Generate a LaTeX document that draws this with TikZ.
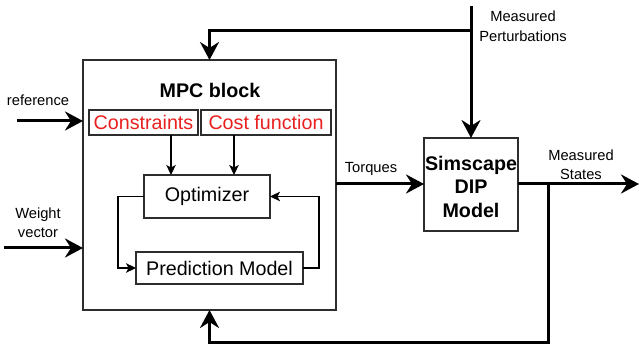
\documentclass[tikz,border=0pt]{standalone}
\usepackage{fontspec}
\setmainfont{Liberation Sans}
\usetikzlibrary{arrows.meta}
\definecolor{redtxt}{RGB}{232,32,30}
\definecolor{boxline}{RGB}{45,45,45}
\tikzset{
  box/.style={draw=boxline, line width=1.3pt, inner sep=0pt, outer sep=0pt, fill=white},
  bigtxt/.style={font=\fontsize{19.7}{24}\selectfont},
  smalltxt/.style={font=\fontsize{14.7}{19}\selectfont, align=center, inner sep=0pt},
  thinarr/.style={draw=black, line width=1.2pt, -{Stealth[length=10pt,width=9.5pt,inset=2.5pt]}},
  thickarr/.style={draw=black, line width=3pt, -{Stealth[length=18pt,width=19pt,inset=6pt]}},
}
\begin{document}
\begin{tikzpicture}[x=1pt, y=-1pt]
\useasboundingbox (0,0) rectangle (639,344);
% boxes
\node[box, minimum width=253pt, minimum height=250pt] (mpc) at (209.5,185) {};
\node[inner sep=0pt, font=\fontsize{19.7}{24}\selectfont\bfseries] (mpctitle) at (210,90) {MPC block};
\node[box, bigtxt, text=redtxt, minimum width=109pt, minimum height=25pt] (cons) at (143.5,122.5) {Constraints};
\node[box, bigtxt, text=redtxt, minimum width=130pt, minimum height=25pt] (cost) at (266,122.5) {Cost function};
\node[box, bigtxt, minimum width=126pt, minimum height=43pt] (opt) at (207,196.5) {Optimizer};
\node[box, bigtxt, minimum width=167pt, minimum height=32pt] (pm) at (219.5,268) {Prediction Model};
\node[box, minimum width=94pt, minimum height=93pt] (sim) at (471,184.5) {};
\node[align=center, inner sep=0pt, font=\fontsize{19.7}{23.5}\selectfont\bfseries] (simtxt) at (471,186.5) {Simscape\\DIP\\Model};
% labels
\node[smalltxt] (lref) at (38,100) {reference};
\node[smalltxt] (lweight) at (38,222.5) {Weight\\vector};
\node[smalltxt] (ltorq) at (371,169) {Torques};
\node[smalltxt] (lstates) at (581,164.5) {Measured\\States};
\node[smalltxt, font=\fontsize{14.7}{20}\selectfont] (lpert) at (523,26) {Measured\\Perturbations};
% coordinates
\coordinate (refin) at (17,121);
\coordinate (wgtin) at (4,248);
\coordinate (ptop) at (471,6);
\coordinate (pj) at (471,31);
\coordinate (fb) at (548,184);
\coordinate (out) at (639,184);
% inner connectors
\draw[thinarr] ([xshift=27.5pt]cons.south) -- ([xshift=27.5pt]cons.south |- opt.north);
\draw[thinarr] ([xshift=-32pt]cost.south) -- ([xshift=-32pt]cost.south |- opt.north);
\draw[thinarr] (opt.west) -- ++(-26,0) |- (pm.west);
\draw[thinarr] (pm.east) -- ++(16,0) |- (opt.east);
% thick connectors
\draw[thickarr] (refin) -- (refin -| mpc.west);
\draw[thickarr] (wgtin) -- (wgtin -| mpc.west);
\draw[thickarr] (ptop) -- (sim.north);
\draw[thickarr] (pj) -| (mpc.north);
\draw[thickarr] (fb -| mpc.east) -- (sim.west |- fb);
\draw[thickarr] (sim.east |- fb) -- (out);
\draw[thickarr] (fb) -- ++(0,158) -| (mpc.south);
\end{tikzpicture}
\end{document}
